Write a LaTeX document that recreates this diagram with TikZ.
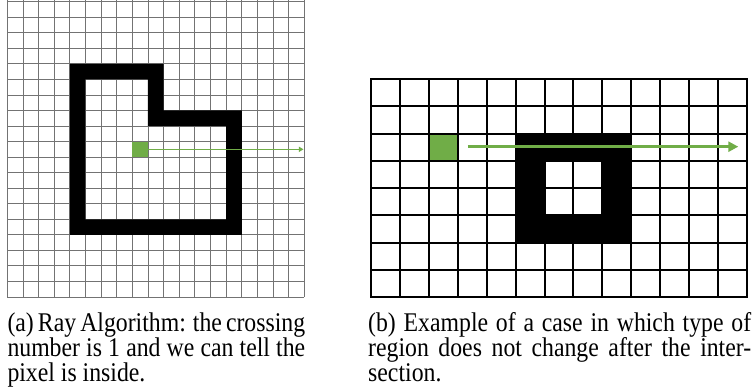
\documentclass[tikz,border=0pt]{standalone}
\usepackage{fontspec}
\setmainfont{Liberation Serif}
\newfontfamily\capfont[FakeStretch=0.88]{Liberation Serif}
\usetikzlibrary{arrows.meta}
\definecolor{xlgreen}{HTML}{70AD47}
\definecolor{gridgray}{RGB}{115,115,115}
\begin{document}
\begin{tikzpicture}[x=1pt,y=-1pt,
  captext/.style={anchor=base west, inner sep=0pt, font=\capfont\fontsize{27}{27}\selectfont},
  leftgrid/.style={draw=gridgray, line width=0.8pt},
  rightgrid/.style={draw=black, line width=2pt},
  greencell/.style={fill=xlgreen, inner sep=0pt, draw=none},
  leftarrow/.style={draw=xlgreen, line width=1.4pt, -{Triangle[length=4.5pt,width=5pt]}},
  rightarrow/.style={draw=xlgreen, line width=3pt, -{Triangle[length=10pt,width=10pt]}}]
\useasboundingbox (0,0) rectangle (754,391);
\fill[white] (0,0) rectangle (754,391);

% ---------- left picture ----------
\begin{scope}[shift={(7.3,1.7)}, x=15.63pt, y=-15.54pt]
  \foreach \i in {0,...,19} \draw[leftgrid] (\i,-0.11) -- (\i,19);
  \foreach \j in {0,...,19} \draw[leftgrid] (0,\j) -- (19,\j);
  \fill[black, even odd rule]
    (4,4) -- (10,4) -- (10,7) -- (15,7) -- (15,15) -- (4,15) -- cycle
    (5,5) -- (9,5) -- (9,8) -- (14,8) -- (14,14) -- (5,14) -- cycle;
  \node[greencell, minimum width=15.63pt, minimum height=15.54pt] (pa) at (8.5,9.5) {};
  \coordinate (paend) at (18.95,9.5);
  \draw[leftarrow] (pa.east) -- (paend);
\end{scope}

% ---------- right picture ----------
\begin{scope}[shift={(371,79)}, x=28.92pt, y=-27.29pt]
  \node[greencell, minimum width=28.92pt, minimum height=27.29pt] (pb) at (2.5,2.5) {};
  \foreach \i in {0,...,13} \draw[rightgrid] (\i,0) -- (\i,8);
  \foreach \j in {0,...,8} \draw[rightgrid] (0,\j) -- (13,\j);
  \draw[rightgrid] (0,0) rectangle (13,8);
  \fill[black, even odd rule]
    (5,2) rectangle (9,6)
    (6,3) rectangle (8,5);
  \coordinate (pbend) at (12.7,2.48);
  \draw[rightarrow, shorten <=10pt] (pb.east |- pbend) -- (pbend);
\end{scope}

% ---------- captions ----------
\node[captext] (capa1) at (7.3,331) {\makebox[297.7pt][s]{(a) Ray Algorithm: the crossing}};
\node[captext] (capa2) at (7.3,356) {\makebox[297.7pt][s]{number is 1 and we can tell the}};
\node[captext] (capa3) at (7.3,381) {pixel is inside.};
\node[captext] (capb1) at (368,331) {\makebox[383pt][s]{(b) Example of a case in which type of}};
\node[captext] (capb2) at (368,356) {\makebox[383pt][s]{region does not change after the inter-}};
\node[captext] (capb3) at (368,381) {section.};
\end{tikzpicture}
\end{document}
